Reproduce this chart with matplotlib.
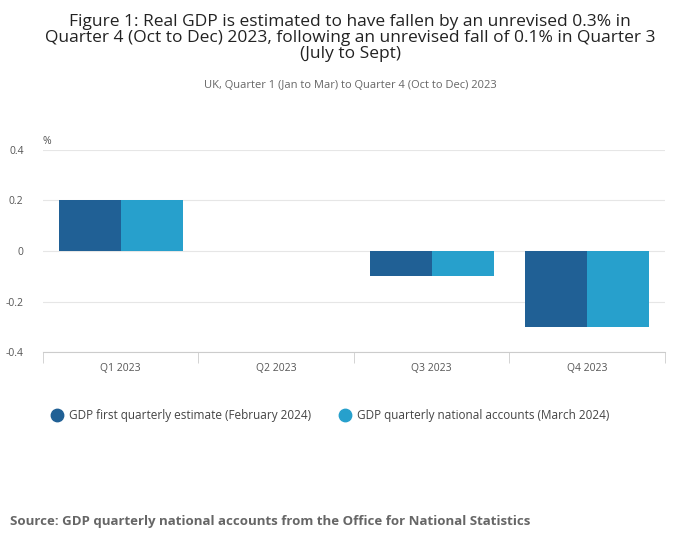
import matplotlib
matplotlib.use("Agg")
import matplotlib.pyplot as plt
import numpy as np

categories = ["Q1 2023", "Q2 2023", "Q3 2023", "Q4 2023"]
first_est = [0.2, 0.0, -0.1, -0.3]
qna = [0.2, 0.0, -0.1, -0.3]
series_names = ["GDP first quarterly estimate (February 2024)", "GDP quarterly national accounts (March 2024)"]
yticks = [-0.4, -0.2, 0, 0.2, 0.4]

plt.rcParams['font.family'] = ['Open Sans', 'DejaVu Sans']
fig = plt.figure(figsize=(7, 5.49), dpi=100)
ax = fig.add_axes([0.0614, 0.3588, 0.8886, 0.368])
x = np.arange(len(categories))
c1, c2 = "#206095", "#27a0cc"
ax.bar(x - 0.2, first_est, 0.4, color=c1, zorder=3)
ax.bar(x + 0.2, qna, 0.4, color=c2, zorder=3)
ax.set_xlim(-0.5, 3.5)
ax.set_ylim(-0.4, 0.4)
ax.set_yticks(yticks)
ax.set_yticklabels(["-0.4", "-0.2", "0", "0.2", "0.4"], fontsize=7.5, color="#555555")
ax.yaxis.grid(True, color="#e6e6e6", lw=0.8, zorder=0)
ax.tick_params(axis='y', length=0, pad=14)
ax.set_xticks(x)
ax.set_xticklabels(categories, fontsize=7.5, color="#555555")
ax.set_xticks([0.5, 1.5, 2.5, -0.5, 3.5], minor=True)
ax.tick_params(axis='x', which='major', length=0, pad=8)
ax.tick_params(axis='x', which='minor', length=8, color="#cccccc")
for s in ["top", "right", "left"]:
    ax.spines[s].set_visible(False)
ax.spines["bottom"].set_color("#cccccc")
ax.text(-0.5, 0.41, "%", fontsize=7.5, color="#555555", ha="left", va="bottom")

fig.text(0.5, 0.975, "Figure 1: Real GDP is estimated to have fallen by an unrevised 0.3% in\nQuarter 4 (Oct to Dec) 2023, following an unrevised fall of 0.1% in Quarter 3\n(July to Sept)",
         ha="center", va="top", fontsize=12.5, color="#222222", linespacing=1.0)
fig.text(0.5, 0.845, "UK, Quarter 1 (Jan to Mar) to Quarter 4 (Oct to Dec) 2023", ha="center", va="center",
         fontsize=8, color="#666666")

ax_leg = fig.add_axes([0, 0, 1, 1], facecolor="none")
ax_leg.set_axis_off()
ly = 1 - 415/549
ax_leg.scatter([57/700], [ly], s=80, color=c1, transform=fig.transFigure)
ax_leg.scatter([345/700], [ly], s=80, color=c2, transform=fig.transFigure)
fig.text(69/700, ly, series_names[0], fontsize=8.5, color="#444444", va="center")
fig.text(357/700, ly, series_names[1], fontsize=8.5, color="#444444", va="center")
fig.text(10/700, 1 - 521/549, "Source: GDP quarterly national accounts from the Office for National Statistics",
         fontsize=9.5, fontweight="bold", color="#666666", va="center")
fig.savefig("out.png", dpi=100)
